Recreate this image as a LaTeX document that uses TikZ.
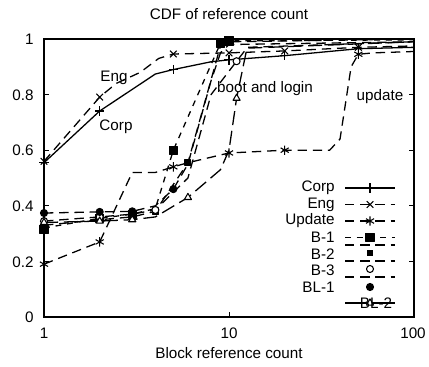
\documentclass[tikz,border=0pt]{standalone}
\usepackage{fontspec}
\setmainfont{Liberation Sans}
\usepackage{tikz}
\usetikzlibrary{plotmarks}
\definecolor{plotink}{RGB}{0,0,0}

\begin{document}
\begin{tikzpicture}[x=0.03cm, y=0.03cm, font=\fontsize{13}{15}\selectfont,
    curve/.style={line width=1.1pt, plotink, line join=round},
    dashcurve/.style={curve, dash pattern=on 8pt off 5pt},
    shortdash/.style={curve, dash pattern=on 5pt off 5pt},
    longdash/.style={curve, dash pattern=on 12pt off 5pt},
    pts/.style={curve, solid, line width=0.9pt}]
  \useasboundingbox (0,0) rectangle (429,366);

  % Title and axis labels
  \node (title) at (229,352) {CDF of reference count};
  \node (xlabel) at (229,13) {Block reference count};

  % Tick labels
  \foreach \v/\py [count=\i] in {0/49,0.2/104,0.4/160,0.6/216,0.8/271,1/327}
    \node[anchor=east, inner sep=1pt] (ylab\i) at (35,\py) {\v};
  \foreach \v/\px [count=\i] in {1/44,10/229,100/413}
    \node (xlab\i) at (\px,33) {\v};

  % Data area: x = log10(count), y = fraction
  \begin{scope}[shift={(44,49)}, x=5.55cm, y=8.34cm]
    % Frame and ticks
    \draw[line width=0.9pt] (0,0) rectangle (2,1);
    \foreach \t in {0.2,0.4,0.6,0.8} {
      \draw[line width=0.6pt] (0,\t) -- ++(0.15cm,0);
      \draw[line width=0.6pt] (2,\t) -- ++(-0.15cm,0);
    }
    \draw[line width=0.6pt] (1,0) -- ++(0,0.15cm);

    % Corp
    \draw[curve] plot coordinates {(0,.555) (.301,.741) (.602,.874) (.699,.89)
      (.903,.918) (1,.925) (1.301,.94) (1.699,.965) (2,.97)};
    \draw[pts] plot[only marks, mark=+, mark size=4pt] coordinates {(0,.555)
      (.301,.741) (.699,.89) (1,.925) (1.301,.94) (1.699,.965)};

    % Eng
    \draw[dashcurve] plot coordinates {(0,.56) (.301,.791) (.39,.84) (.52,.88)
      (.62,.93) (.699,.946) (1,.95) (1.301,.957) (1.699,.97) (2,.975)};
    \draw[pts] plot[only marks, mark=x, mark size=4pt] coordinates {(0,.56)
      (.301,.791) (.699,.946) (1,.95) (1.301,.957) (1.699,.97)};

    % Update
    \draw[dashcurve] plot coordinates {(0,.19) (.301,.27) (.477,.52) (.602,.52)
      (.699,.54) (.778,.555) (1,.59) (1.301,.60) (1.544,.60) (1.6,.64)
      (1.66,.90) (1.699,.945) (1.778,.95) (2,.955)};
    \draw[pts] plot[only marks, mark=asterisk, mark size=4pt] coordinates {(0,.19)
      (.301,.27) (.699,.54) (1,.59) (1.301,.60) (1.699,.945)};

    % B-1
    \draw[shortdash] plot coordinates {(0,.32) (.301,.355) (.477,.37) (.602,.39)
      (.699,.60) (.954,.985) (1,.993) (2,.997)};
    \draw[pts] plot[only marks, mark=square*, mark size=3.5pt] coordinates {(0,.315)
      (.301,.355) (.477,.37) (.699,.60) (.954,.985) (1,.993)};

    % B-2
    \draw[dashcurve] plot coordinates {(0,.33) (.301,.35) (.477,.36) (.602,.38)
      (.778,.555) (.954,.975) (1,.99) (2,1)};
    \draw[pts] plot[only marks, mark=square*, mark size=2.5pt] coordinates {(0,.33)
      (.301,.35) (.477,.36) (.602,.38) (.778,.555) (1,.99)};

    % B-3
    \draw[dashcurve] plot coordinates {(0,.345) (.301,.36) (.477,.37) (.602,.385)
      (.778,.50) (.903,.80) (1.041,.92) (1.1,.97) (2,.99)};
    \draw[pts, fill=white] plot[only marks, mark=*, mark size=3pt] coordinates {(0,.345)
      (.301,.36) (.602,.385) (1.041,.92)};

    % BL-1
    \draw[dashcurve] plot coordinates {(0,.374) (.301,.378) (.477,.38) (.602,.40)
      (.699,.46) (.778,.55) (.903,.85) (.954,.95) (1,.98) (2,.99)};
    \draw[pts] plot[only marks, mark=*, mark size=3pt] coordinates {(0,.374)
      (.301,.378) (.477,.38) (.699,.46)};

    % BL-2
    \draw[longdash] plot coordinates {(0,.34) (.301,.345) (.477,.35) (.602,.36)
      (.778,.43) (.954,.53) (1,.60) (1.041,.787) (1.097,.967) (2,.99)};
    \draw[pts, fill=white] plot[only marks, mark=triangle*, mark size=3.5pt] coordinates {(0,.34)
      (.301,.345) (.477,.35) (.778,.43) (1.041,.787)};
  \end{scope}

  % Annotations
  \node (eng) at (114,288) {Eng};
  \node (corp) at (116,239) {Corp};
  \node (boot) at (265,277) {boot and login};
  \node (upd) at (380,269) {update};

  % Legend
  \node[anchor=east, inner sep=1pt] (keycorp) at (336,178) {Corp};
  \draw[curve] (345,178) -- (395,178);
  \draw[pts] plot[mark=+, mark size=4pt] coordinates {(370,178)};
  \node[anchor=east, inner sep=1pt] (keyeng) at (336,161.5) {Eng};
  \draw[dashcurve] (345,161.5) -- (395,161.5);
  \draw[pts] plot[mark=x, mark size=4pt] coordinates {(370,161.5)};
  \node[anchor=east, inner sep=1pt] (keyupd) at (336,145) {Update};
  \draw[dashcurve] (345,145) -- (395,145);
  \draw[pts] plot[mark=asterisk, mark size=4pt] coordinates {(370,145)};
  \node[anchor=east, inner sep=1pt] (keyba) at (336,128.5) {B-1};
  \draw[shortdash] (345,128.5) -- (395,128.5);
  \draw[pts] plot[mark=square*, mark size=3.5pt] coordinates {(370,128.5)};
  \draw[dashcurve] (345,121) -- (395,121);
  \node[anchor=east, inner sep=1pt] (keybb) at (336,112) {B-2};
  \draw[pts] plot[mark=square*, mark size=2.5pt] coordinates {(370,113)};
  \draw[dashcurve] (345,105) -- (395,105);
  \node[anchor=east, inner sep=1pt] (keybc) at (336,96) {B-3};
  \draw[pts, fill=white] plot[mark=*, mark size=3pt] coordinates {(370,97)};
  \draw[dashcurve] (345,89) -- (395,89);
  \node[anchor=east, inner sep=1pt] (keybla) at (336,79) {BL-1};
  \draw[pts] plot[mark=*, mark size=3pt] coordinates {(370,79)};
  \draw[curve] (345,63) -- (395,63);
  \draw[pts, fill=white] plot[mark=triangle*, mark size=3.5pt] coordinates {(370,63)};
  \node[inner sep=0pt] (keyblb) at (376,63) {BL-2};
\end{tikzpicture}
\end{document}
